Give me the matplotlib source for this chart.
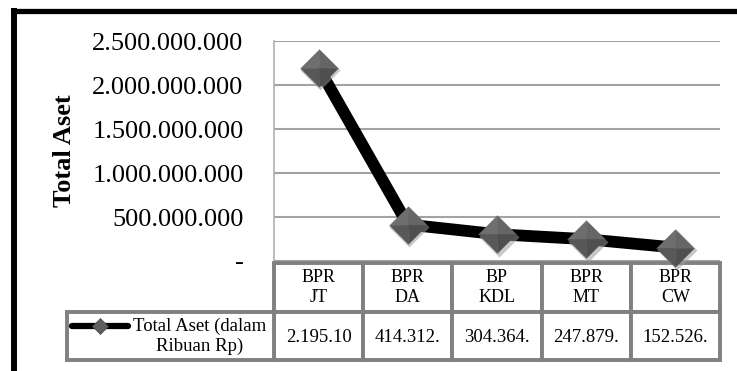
import numpy as np
import matplotlib.pyplot as plt
import matplotlib.transforms as mtransforms
from matplotlib.patches import Rectangle
from matplotlib.path import Path
from matplotlib.lines import Line2D
from matplotlib.ticker import FuncFormatter, MultipleLocator

plt.rcParams['font.family'] = ['Liberation Serif', 'DejaVu Serif']

# total aset per bank (ribuan Rp)
banks = ['BPR\nJT', 'BPR\nDA', 'BP\nKDL', 'BPR\nMT', 'BPR\nCW']
total_aset = [2195100000, 414312000, 304364000, 247879000, 152526000]
series_name = 'Total Aset (dalam\nRibuan Rp)'
y_label = 'Total Aset'


def dotted(v):
    return f'{int(round(v)):,}'.replace(',', '.')


def fmt_tick(v, pos):
    return '-' if v == 0 else dotted(v)


# table cells are too narrow for the full number, so it gets cut off
cell_text = [dotted(v)[:8] for v in total_aset]

fig = plt.figure(figsize=(7.37, 3.71), dpi=100)
ax = fig.add_axes([274 / 737, 1 - 261 / 371, 446 / 737, 220 / 371])

x = np.arange(len(banks))
ax.set_xlim(-0.5, len(banks) - 0.5)
ax.set_ylim(0, 2500000000)
ax.yaxis.set_major_locator(MultipleLocator(500000000))
ax.yaxis.set_major_formatter(FuncFormatter(fmt_tick))
ax.set_xticks([])
ax.tick_params(axis='y', length=0, pad=22, labelsize=19)
ax.grid(axis='y', color='#a3a3a3', lw=1.5)
ax.set_axisbelow(True)
for s in ['top', 'right', 'bottom']:
    ax.spines[s].set_visible(False)
ax.spines['left'].set_color('#b0b0b0')
ax.spines['left'].set_linewidth(1.2)
ax.set_ylabel(y_label, fontsize=19, fontweight='bold', labelpad=0)
ax.yaxis.set_label_coords(-0.443, 0.5)

# thick black series line
ax.plot(x, total_aset, color='black', lw=8.5, solid_capstyle='butt',
        solid_joinstyle='miter', zorder=5, clip_on=False)

# diamonds with a soft shadow and four shaded facets
shadow = mtransforms.offset_copy(ax.transData, fig, x=1.5, y=-2.5, units='dots')
ax.plot(x, total_aset, ls='none', marker='D', ms=20, color='#9a9a9a', alpha=0.55,
        mec='none', transform=shadow, zorder=6, clip_on=False)
facets = [
    ([(0, 0), (-1, 0), (0, 1), (0, 0)], '#6e6e6e'),
    ([(0, 0), (0, 1), (1, 0), (0, 0)], '#666666'),
    ([(0, 0), (1, 0), (0, -1), (0, 0)], '#4f4f4f'),
    ([(0, 0), (0, -1), (-1, 0), (0, 0)], '#585858'),
]
for verts, col in facets:
    ax.plot(x, total_aset, ls='none', marker=Path(verts), ms=27, mfc=col,
            mec=col, mew=0.3, zorder=7, clip_on=False)

# data table under the plot
border = '#808080'
blw = 2.8
y_top, y_mid, y_bot = -0.009, -0.232, -0.45
cell_tr = mtransforms.blended_transform_factory(ax.transData, ax.transAxes)
for i, (b, t) in enumerate(zip(banks, cell_text)):
    ax.add_patch(Rectangle((i - 0.5, y_mid), 1, y_top - y_mid, transform=cell_tr,
                           fc='white', ec=border, lw=blw, clip_on=False, zorder=3))
    ax.add_patch(Rectangle((i - 0.5, y_bot), 1, y_mid - y_bot, transform=cell_tr,
                           fc='white', ec=border, lw=blw, clip_on=False, zorder=3))
    ax.text(i, (y_top + y_mid) / 2, b, transform=cell_tr, ha='center', va='center',
            fontsize=13, linespacing=1.2, zorder=4)
    ax.text(i, (y_mid + y_bot) / 2 - 0.005, t, transform=cell_tr, ha='center',
            va='center', fontsize=13.5, zorder=4)

# legend cell
ax.add_patch(Rectangle((-0.464, y_bot), 0.464, y_mid - y_bot, transform=ax.transAxes,
                       fc='white', ec=border, lw=blw, clip_on=False, zorder=3))
ax.add_line(Line2D([-0.453, -0.327], [-0.295, -0.295], transform=ax.transAxes,
                   color='black', lw=4.5, solid_capstyle='round', zorder=4, clip_on=False))
ax.add_line(Line2D([-0.39], [-0.295], transform=ax.transAxes, ls='none', marker='D',
                   ms=8, mfc='#5e5e5e', mec='#4a4a4a', mew=0.5, zorder=5, clip_on=False))
ax.text(-0.166, -0.343, series_name, transform=ax.transAxes, ha='center', va='center',
        fontsize=13.5, linespacing=1.15, zorder=4)

# outer chart frame (cut at right and bottom)
fig.add_artist(Line2D([11 / 737, 1], [1 - 10.5 / 371] * 2, color='black', lw=3.8,
                      solid_capstyle='butt'))
fig.add_artist(Line2D([14 / 737] * 2, [1 - 8 / 371, 0], color='black', lw=4.3,
                      solid_capstyle='butt'))

fig.savefig('out.png', dpi=100)
